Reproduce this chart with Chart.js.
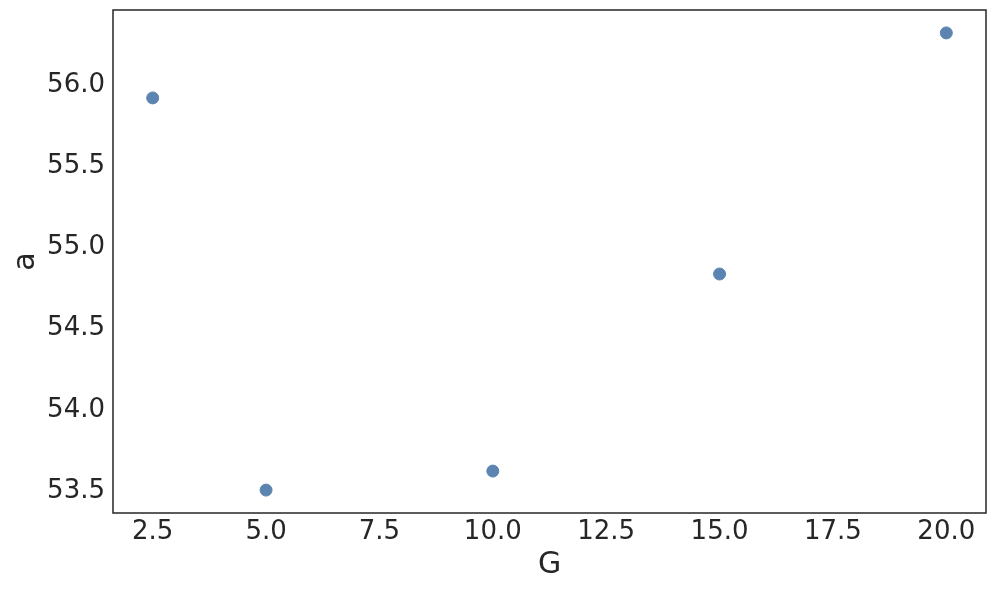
<!DOCTYPE html>
<html>
<head>
<meta charset="utf-8">
<script src="https://cdn.jsdelivr.net/npm/chart.js@4/dist/chart.umd.min.js"></script>
<style>
  html, body { margin: 0; padding: 0; background: #fff; }
  #wrap { width: 996px; height: 591px; }
</style>
</head>
<body>
<div id="wrap"><canvas id="scatterChart" width="996" height="591"></canvas></div>
<script>
    // Data
    const gValues = [2.5, 5.0, 10.0, 15.0, 20.0];
    const aValues = [55.908, 53.494, 53.611, 54.824, 56.308];

    // Tick positions
    const xTicks = [2.5, 5.0, 7.5, 10.0, 12.5, 15.0, 17.5, 20.0];
    const yTicks = [53.5, 54.0, 54.5, 55.0, 55.5, 56.0];

    const points = gValues.map((g, i) => ({ x: g, y: aValues[i] }));

    // Frame around the plot area
    const frame = {
        id: 'frame',
        afterDraw(chart) {
            const { ctx, chartArea: a } = chart;
            ctx.save();
            ctx.strokeStyle = '#262626';
            ctx.lineWidth = 1.5;
            ctx.strokeRect(a.left, a.top, a.right - a.left, a.bottom - a.top);
            ctx.restore();
        }
    };

    const tickFont = { family: 'DejaVu Sans', size: 26 };
    const titleFont = { family: 'DejaVu Sans', size: 30 };

    const ctx = document.getElementById('scatterChart').getContext('2d');

    new Chart(ctx, {
        type: 'scatter',
        data: {
            datasets: [{
                data: points,
                backgroundColor: '#5b84b1',
                borderColor: '#5b84b1',
                pointRadius: 6,
                pointHoverRadius: 6
            }]
        },
        options: {
            responsive: false,
            animation: false,
            layout: { padding: { top: 10, right: 10, left: 0, bottom: 0 } },
            plugins: {
                legend: { display: false },
                tooltip: { enabled: false }
            },
            scales: {
                x: {
                    type: 'linear',
                    min: 1.625,
                    max: 20.875,
                    grid: { display: false, drawTicks: false },
                    border: { display: false },
                    afterBuildTicks: s => { s.ticks = xTicks.map(v => ({ value: v })); },
                    afterFit: s => { s.height = 78; s.paddingLeft = 0; s.paddingRight = 0; },
                    ticks: {
                        color: '#262626',
                        font: tickFont,
                        padding: 4,
                        maxRotation: 0,
                        callback: v => v.toFixed(1)
                    },
                    title: {
                        display: true,
                        text: 'G',
                        color: '#262626',
                        font: titleFont,
                        padding: { top: 0, bottom: 8 }
                    }
                },
                y: {
                    type: 'linear',
                    min: 53.353,
                    max: 56.449,
                    grid: { display: false, drawTicks: false },
                    border: { display: false },
                    afterBuildTicks: s => { s.ticks = yTicks.map(v => ({ value: v })); },
                    afterFit: s => { s.width = 113; s.paddingTop = 0; s.paddingBottom = 0; },
                    ticks: {
                        color: '#262626',
                        font: tickFont,
                        padding: 8,
                        labelOffset: 2,
                        callback: v => v.toFixed(1)
                    },
                    title: {
                        display: true,
                        text: 'a',
                        color: '#262626',
                        font: titleFont,
                        padding: { top: 8, bottom: 0 }
                    }
                }
            }
        },
        plugins: [frame]
    });
</script>
</body>
</html>
